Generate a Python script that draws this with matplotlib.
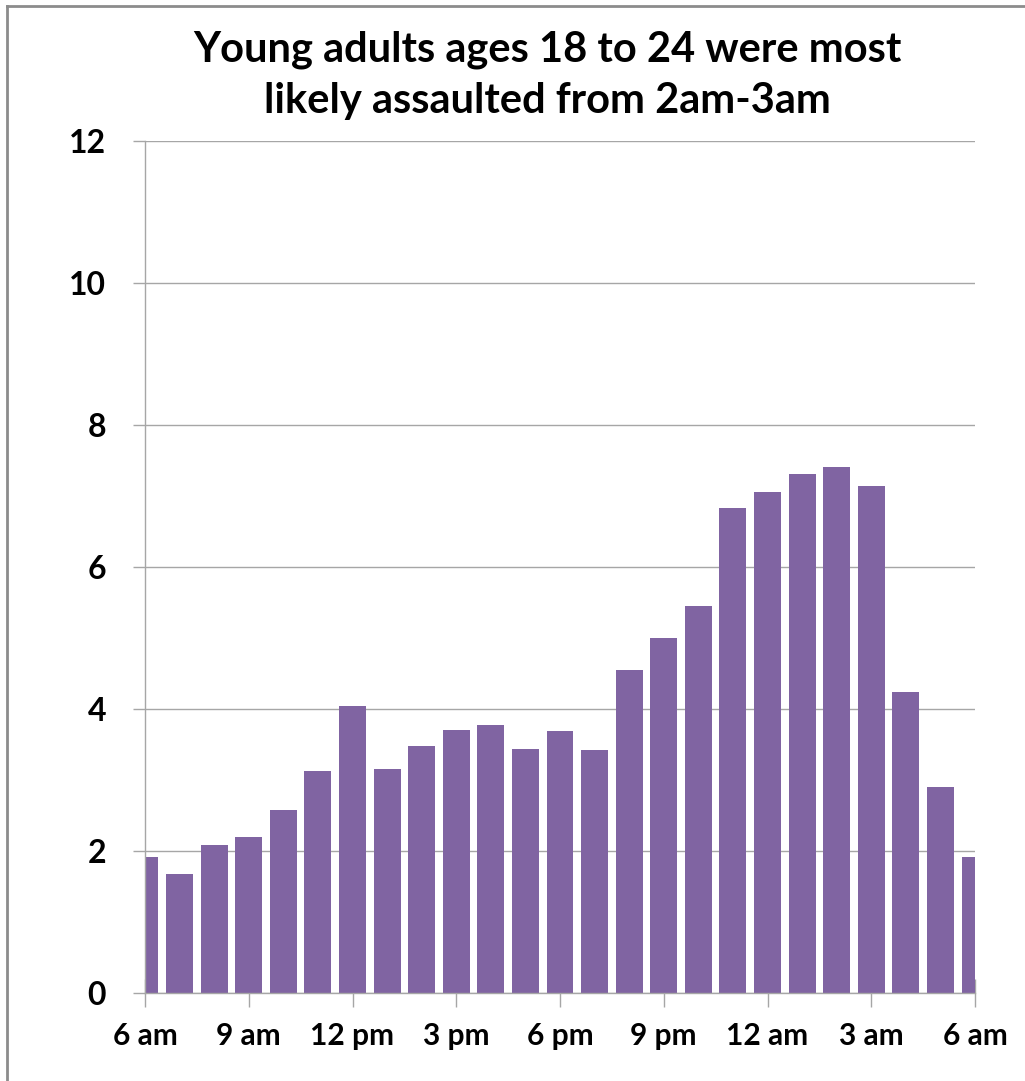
import matplotlib
matplotlib.use("Agg")
import matplotlib.pyplot as plt
from matplotlib.lines import Line2D

hours = list(range(25))
values = [1.92, 1.68, 2.08, 2.20, 2.58, 3.13, 4.04, 3.15, 3.48, 3.70, 3.77, 3.44,
          3.69, 3.42, 4.55, 5.00, 5.45, 6.83, 7.06, 7.31, 7.41, 7.14, 4.24, 2.90, 1.92]
tick_pos = [0, 3, 6, 9, 12, 15, 18, 21, 24]
tick_labels = ["6 am", "9 am", "12 pm", "3 pm", "6 pm", "9 pm", "12 am", "3 am", "6 am"]
yticks = [0, 2, 4, 6, 8, 10, 12]
title = "Young adults ages 18 to 24 were most\nlikely assaulted from 2am-3am"

plt.rcParams['font.family'] = ['Lato', 'DejaVu Sans']

fig = plt.figure(figsize=(10.25, 10.81), dpi=100)
ax = fig.add_axes([145/1025, 1-993/1081, (975-145)/1025, (993-141)/1081])

grid_c = "#A6A6A6"
ax.bar(hours, values, width=0.78, color="#8064A2", zorder=2)
ax.set_xlim(0, 24)
ax.set_ylim(0, 12)
ax.set_yticks(yticks)
ax.set_yticklabels([str(v) for v in yticks], fontsize=23, fontweight='bold')
ax.set_xticks(tick_pos)
ax.set_xticklabels(tick_labels, fontsize=21.5, fontweight='bold')
ax.yaxis.grid(True, color=grid_c, linewidth=1.0, zorder=0)
ax.set_axisbelow(True)
for s in ['top', 'right']:
    ax.spines[s].set_visible(False)
for s in ['left', 'bottom']:
    ax.spines[s].set_color(grid_c)
    ax.spines[s].set_linewidth(1.0)
    ax.spines[s].set_zorder(3)
ax.tick_params(axis='y', length=9, width=1.0, color=grid_c, pad=19)
ax.tick_params(axis='x', direction='inout', length=20, width=1.0, color=grid_c, pad=11)
for t in ax.xaxis.get_ticklines():
    t.set_zorder(4)

fig.text(547/1025, 1-75/1081, title, ha='center', va='center', fontsize=30,
         fontweight='bold', linespacing=1.42)

fig.add_artist(Line2D([7/1025, 7/1025], [0, 1-6/1081], transform=fig.transFigure,
                      color="#8C8C8C", linewidth=2))
fig.add_artist(Line2D([7/1025, 1], [1-6/1081, 1-6/1081], transform=fig.transFigure,
                      color="#8C8C8C", linewidth=2))

fig.savefig("out.png", dpi=100)
